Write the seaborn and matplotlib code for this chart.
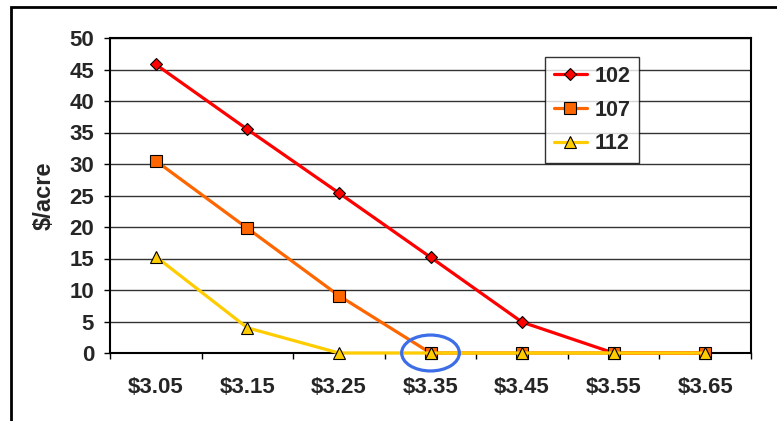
import matplotlib
matplotlib.use("Agg")
import matplotlib.pyplot as plt
import seaborn as sns
import pandas as pd
from matplotlib.patches import Ellipse, Rectangle
from matplotlib.ticker import FixedLocator

prices = ["$3.05", "$3.15", "$3.25", "$3.35", "$3.45", "$3.55", "$3.65"]
s102 = [45.8, 35.5, 25.4, 15.2, 4.9, 0, 0]
s107 = [30.5, 19.8, 9.1, 0, 0, 0, 0]
s112 = [15.3, 4.0, 0, 0, 0, 0, 0]
series_names = ["102", "107", "112"]
series_vals = [s102, s107, s112]
colors = ["#ff0000", "#ff6600", "#ffcc00"]
markers = ["D", "s", "^"]
msizes = [6.5, 8.5, 8.5]
yticks = [0, 5, 10, 15, 20, 25, 30, 35, 40, 45, 50]

sns.set_style("white")
plt.rcParams["font.family"] = ["Liberation Sans", "DejaVu Sans"]
plt.rcParams["font.weight"] = "bold"

fig = plt.figure(figsize=(7.77, 4.21), dpi=100)
ax = fig.add_axes([110 / 777, (421 - 353) / 421, (751 - 110) / 777, (353 - 38) / 421])

xs = list(range(len(prices)))
for name, vals, c, m, ms in zip(series_names, series_vals, colors, markers, msizes):
    df = pd.DataFrame({"x": xs, "y": vals})
    sns.lineplot(data=df, x="x", y="y", ax=ax, color=c, lw=2.3, marker=m,
                 markersize=ms, markeredgecolor="black", markeredgewidth=0.8,
                 markerfacecolor=c, label=name, zorder=3, clip_on=False)

ax.set_xlim(-0.5, len(prices) - 0.5)
ax.set_ylim(0, 50)
ax.set_yticks(yticks)
ax.set_yticklabels([str(v) for v in yticks], fontsize=16, fontweight="bold")
ax.set_xticks(xs)
ax.set_xticklabels(prices, fontsize=16, fontweight="bold")
ax.xaxis.set_minor_locator(FixedLocator([i - 0.5 for i in range(len(prices) + 1)]))
ax.tick_params(axis="x", which="major", length=0, pad=17)
ax.tick_params(axis="x", which="minor", length=4.5, width=1, color="black", direction="out", bottom=True)
ax.tick_params(axis="y", which="major", length=4.5, width=1, color="black", direction="out", left=True, pad=7)
ax.grid(axis="y", color="#333333", lw=1.0)
ax.grid(axis="x", visible=False)
ax.set_axisbelow(True)
for sp in ax.spines.values():
    sp.set_visible(True)
    sp.set_color("black")
    sp.set_linewidth(1.5)
ax.set_xlabel("")
ax.set_ylabel("$/acre", fontsize=17, fontweight="bold", labelpad=10)

ell = Ellipse((3, 0), width=0.63, height=5.7, fill=False, edgecolor="#3d6ee8",
              lw=2.3, clip_on=False, zorder=5)
ax.add_patch(ell)

leg = ax.legend(loc="upper left", bbox_to_anchor=((545 - 110) / 641, (353 - 57) / 315),
                frameon=True, fancybox=False, shadow=False, fontsize=15.5,
                handlelength=1.55, borderpad=0.4, labelspacing=0.6, handletextpad=0.35,
                borderaxespad=0)
leg.get_frame().set_edgecolor("black")
leg.get_frame().set_linewidth(1.0)
for t in leg.get_texts():
    t.set_fontweight("bold")

fig.patches.append(Rectangle((11 / 777, -0.1), 1.2, (421 - 7) / 421 + 0.1,
                             transform=fig.transFigure, fill=False,
                             edgecolor="black", lw=2, figure=fig))

fig.savefig("out.png", dpi=100)
